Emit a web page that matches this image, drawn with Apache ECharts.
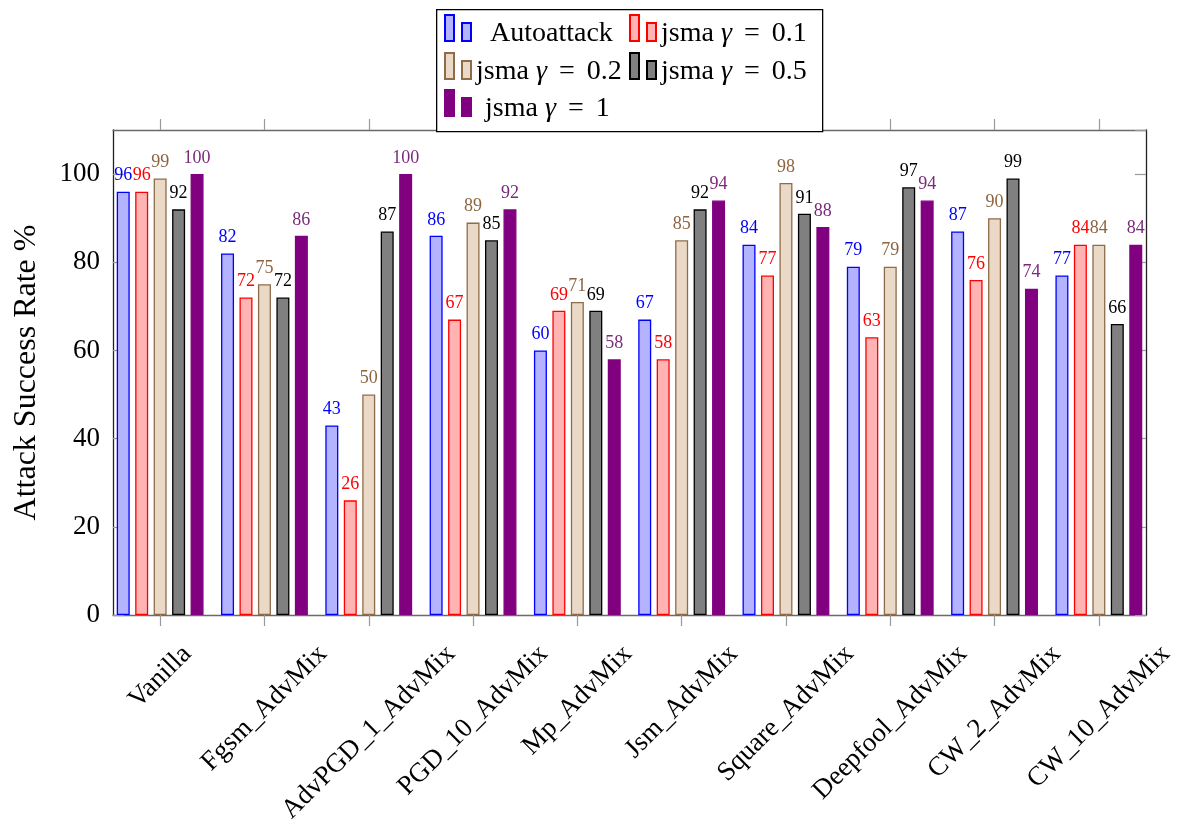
<!DOCTYPE html>
<html>
<head>
<meta charset="utf-8">
<script src="https://cdn.jsdelivr.net/npm/echarts@6/dist/echarts.min.js"></script>
<style>
  html, body { margin: 0; padding: 0; background: #fff; }
  #chart { width: 1183px; height: 836px; }
</style>
</head>
<body>
<div id="chart"></div>
<script>
// Training setups (x categories)
const categories = ['Vanilla', 'Fgsm_AdvMix', 'AdvPGD_1_AdvMix', 'PGD_10_AdvMix', 'Mp_AdvMix',
  'Jsm_AdvMix', 'Square_AdvMix', 'Deepfool_AdvMix', 'CW_2_AdvMix', 'CW_10_AdvMix'];

// Attack success rate (%) per attack
const autoattack = [96, 82, 43, 86, 60, 67, 84, 79, 87, 77];
const jsma01 = [96, 72, 26, 67, 69, 58, 77, 63, 76, 84];
const jsma02 = [99, 75, 50, 89, 71, 85, 98, 79, 90, 84];
const jsma05 = [92, 72, 87, 85, 69, 92, 91, 97, 99, 66];
const jsma1 = [100, 86, 100, 92, 58, 94, 88, 94, 74, 84];

const seriesNames = ['Autoattack', 'jsma γ = 0.1', 'jsma γ = 0.2', 'jsma γ = 0.5', 'jsma γ = 1'];
const yTicks = [0, 20, 40, 60, 80, 100];

const FONT = '"Liberation Serif", "DejaVu Serif", serif';
const TICK_GREY = '#9a9a9a';

const styles = [
  { fill: '#b3b3ff', stroke: '#0000ff', label: '#0000ff' },
  { fill: '#ffb3b3', stroke: '#ff0000', label: '#ff0000' },
  { fill: '#ead9c6', stroke: '#8f6c49', label: '#8c6540' },
  { fill: '#808080', stroke: '#000000', label: '#000000' },
  { fill: '#800080', stroke: '#800080', label: '#7a2a7a' }
];
const values = [autoattack, jsma01, jsma02, jsma05, jsma1];

// Rotated tick labels are centred on their tick and hang from a common top line:
// shift each one along its own frame by half its width.
const measureCtx = document.createElement('canvas').getContext('2d');
measureCtx.font = '27px ' + FONT;
const xRich = {};
categories.forEach((c, i) => {
  const h = measureCtx.measureText(c).width / 2;
  xRich['c' + i] = { padding: [h, h, 0, 0], fontSize: 27, fontFamily: FONT, color: '#000' };
});

// legend text: upright words, italic gamma, wide spacing around "="
const richLegend = {
  t: { fontSize: 28, fontFamily: FONT, color: '#000' },
  g: { fontSize: 28, fontFamily: FONT, fontStyle: 'italic', color: '#000' },
  e: { fontSize: 28, fontFamily: FONT, color: '#000', padding: [0, 5, 0, 5] }
};
const legendFormatter = name => {
  const m = name.match(/^(.*?)γ\s*=\s*(.*)$/);
  return m ? '{t|' + m[1] + '}{g|γ}{e| = }{t|' + m[2] + '}' : '{t|' + name + '}';
};

// legend cells: two columns, three rows
const legendCells = [
  { left: 444, top: 14, pad: 14 },
  { left: 629, top: 14, pad: 0 },
  { left: 444, top: 52, pad: 0 },
  { left: 629, top: 52, pad: 0 },
  { left: 444, top: 89, pad: 9 }
];
const legends = seriesNames.map((name, i) => ({
  data: [name],
  left: legendCells[i].left,
  top: legendCells[i].top,
  padding: 0,
  itemWidth: 26,
  itemHeight: 26,
  icon: 'path://M0,0H9V26H0Z M17,8H26V26H17Z',
  selectedMode: false,
  z: 20,
  formatter: legendFormatter,
  textStyle: { fontSize: 28, fontFamily: FONT, color: '#000', padding: [12, 0, 0, legendCells[i].pad], rich: richLegend }
}));

const series = seriesNames.map((name, i) => ({
  name: name,
  type: 'bar',
  xAxisIndex: 0,
  yAxisIndex: 0,
  data: values[i],
  barWidth: 13,
  barGap: '42%',
  itemStyle: { color: styles[i].fill, borderColor: styles[i].stroke, borderWidth: 1.3 },
  emphasis: { disabled: true },
  label: {
    show: true, position: 'top', distance: 7,
    color: styles[i].label, fontSize: 18, fontFamily: FONT
  }
}));

const valueAxisBase = {
  type: 'value', min: 0, max: 110, interval: 20,
  splitLine: { show: false }
};
const tickStyle = { color: TICK_GREY, width: 1.2 };
const frameX = pos => ({
  gridIndex: 1, type: 'value', position: pos, min: 0, max: 1,
  axisLine: { show: true, onZero: false, lineStyle: { color: '#6a6a6a', width: 1.3 } },
  axisTick: { show: false }, axisLabel: { show: false }, splitLine: { show: false }
});

const chart = echarts.init(document.getElementById('chart'), null, { renderer: 'canvas' });
chart.setOption({
  animation: false,
  backgroundColor: '#fff',
  grid: [
    { left: 108, top: 130, width: 1043, height: 485 },
    { left: 113, top: 130, width: 1033, height: 485 }
  ],
  legend: legends,
  graphic: [{
    type: 'rect', left: 436, top: 9, z: 10,
    shape: { width: 386, height: 122 },
    style: { fill: '#fff', stroke: '#000', lineWidth: 1.3 }
  }],
  xAxis: [
    {
      gridIndex: 0, type: 'category', data: categories, position: 'bottom',
      axisLine: { show: false, onZero: false },
      axisTick: { show: true, alignWithLabel: true, length: 11, lineStyle: tickStyle },
      axisLabel: {
        interval: 0, rotate: 45, align: 'center', verticalAlign: 'middle', margin: 35,
        fontSize: 27, fontFamily: FONT, color: '#000',
        formatter: (v, i) => '{c' + i + '|' + v + '}',
        rich: xRich
      }
    },
    {
      gridIndex: 0, type: 'category', data: categories, position: 'top',
      axisLine: { show: false, onZero: false },
      axisTick: { show: true, interval: 0, alignWithLabel: true, length: 11, lineStyle: tickStyle },
      axisLabel: { show: false, interval: 0 }
    },
    frameX('bottom'),
    frameX('top')
  ],
  yAxis: [
    Object.assign({}, valueAxisBase, { gridIndex: 0, show: false }),
    Object.assign({}, valueAxisBase, {
      gridIndex: 1, position: 'left',
      name: 'Attack Success Rate %', nameLocation: 'middle', nameGap: 70,
      nameTextStyle: { fontSize: 32, fontFamily: FONT, color: '#000' },
      axisLine: { show: true, onZero: false, lineStyle: { color: '#222', width: 1.3 } },
      axisTick: { show: true, inside: true, length: 11, lineStyle: tickStyle },
      axisLabel: {
        margin: 13, fontSize: 27, fontFamily: FONT, color: '#000', showMaxLabel: false,
        formatter: v => (yTicks.includes(v) ? String(v) : '')
      }
    }),
    Object.assign({}, valueAxisBase, {
      gridIndex: 1, position: 'right',
      axisLine: { show: true, onZero: false, lineStyle: { color: '#222', width: 1.3 } },
      axisTick: { show: true, inside: true, length: 11, lineStyle: tickStyle },
      axisLabel: { show: false }
    })
  ],
  series: series
});
</script>
</body>
</html>
